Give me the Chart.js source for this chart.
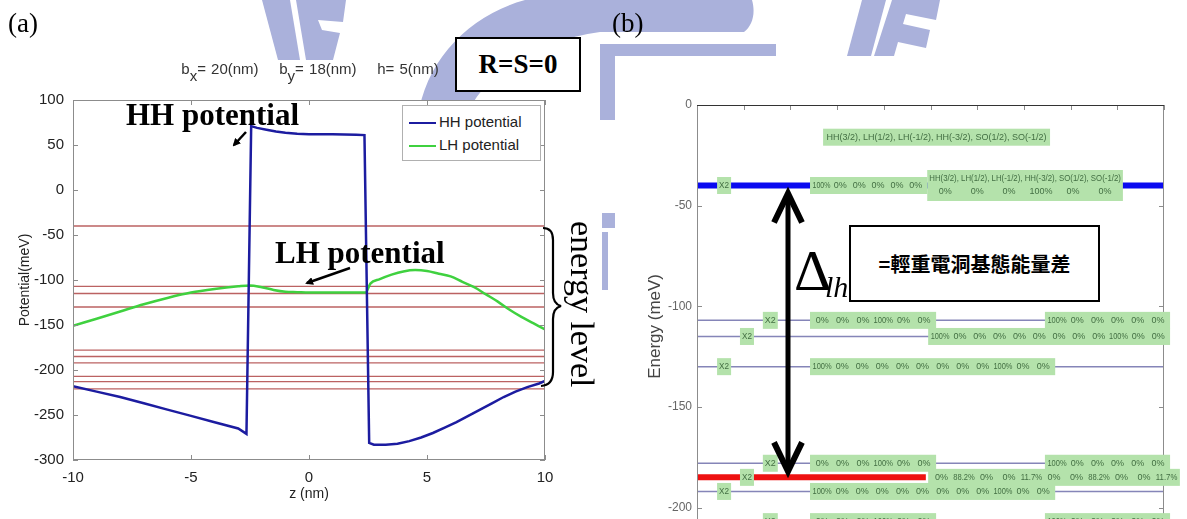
<!DOCTYPE html>
<html lang="zh-Hant">
<head>
<meta charset="UTF-8">
<title>HH / LH potential and energy levels</title>
<script src="https://cdn.jsdelivr.net/npm/chart.js"></script>
<style>
    html, body {
        margin: 0;
        padding: 0;
        width: 1187px;
        height: 519px;
        overflow: hidden;
        background: #fff;
    }
    body {
        position: relative;
        font-family: 'Liberation Sans', Arial, sans-serif;
    }
    .abs { position: absolute; }
    .serif { font-family: 'Liberation Serif', 'Times New Roman', serif; color: #000; }
    #wm { position: absolute; left: 0; top: 0; }
    #plotA-bg { left: 73px; top: 100px; width: 472px; height: 360px; background: #fff; }
    #panelB-bg { left: 615px; top: 56px; width: 572px; height: 463px; background: #fff; }
    #chartA { left: 0; top: 0; }
    #chartB { left: 600px; top: 0; }

    #titleA {
        left: 140px; top: 61px; width: 340px;
        text-align: center; font-size: 15px; color: #333; line-height: 15px;
        white-space: nowrap; word-spacing: 1px;
    }
    #titleA sub { font-size: 15px; vertical-align: -7px; line-height: 0; }

    #legendA {
        left: 402px; top: 105px; width: 137px; height: 54px;
        border: 1px solid #b0b0b0; background: #fff; font-size: 15px; color: #222;
    }
    #legendA .row { position: absolute; left: 6px; height: 18px; line-height: 18px; white-space: nowrap; }
    #legendA .sw { display: inline-block; width: 27px; height: 2.5px; vertical-align: middle; margin-right: 3px; }

    #rs { left: 455px; top: 37px; width: 122px; height: 51px; border: 2px solid #000; background: #fff;
          font-weight: bold; font-size: 27px; line-height: 51px; text-align: center; }
    .big { font-weight: bold; font-size: 31px; line-height: 31px; white-space: nowrap; }
    #energyLevel { left: 565px; top: 221px; writing-mode: vertical-rl; font-size: 34px; line-height: 34px; white-space: nowrap; }
    .panelTag { font-size: 27px; line-height: 27px; }

    #delta { left: 794px; top: 242px; font-size: 58px; line-height: 58px; }
    #lh { left: 825px; top: 272px; font-size: 30px; line-height: 30px; font-style: italic; z-index: 3; }
    #cjkBox { left: 849px; top: 225px; width: 247px; height: 73px; border: 2px solid #000; background: #fff;
              font-family: 'Noto Sans CJK TC', 'Noto Sans CJK SC', sans-serif; font-weight: bold;
              font-size: 20px; line-height: 73px; text-align: center; color: #000; }
    #overlay { position: absolute; left: 0; top: 0; pointer-events: none; }
</style>
</head>
<body>

<!-- faint emblem behind the figure -->
<svg id="wm" width="1187" height="519" viewBox="0 0 1187 519">
    <g fill="#aab1db">
        <polygon points="262,0 290,0 300,60 278,60"/>
        <polygon points="296,0 346,0 343,22 318,20 322,30 340,33 333,60 306,60"/>
        <path d="M418,118 C425,60 470,15 525,0 L752,0 C756,14 752,26 744,32 L600,32 C540,40 480,75 466,118 Z"/>
        <rect x="600" y="44" width="176" height="12"/>
        <rect x="600" y="44" width="15" height="76"/>
        <rect x="602" y="213" width="13" height="15"/>
        <rect x="602" y="232" width="6" height="58"/>
        <polygon points="862,0 886,0 871,56 847,56"/>
        <polygon points="892,0 940,0 936,20 906,14 903,24 930,30 926,48 898,42 894,56 874,56"/>
    </g>
</svg>

<div id="plotA-bg" class="abs"></div>
<div id="panelB-bg" class="abs"></div>

<canvas id="chartA" class="abs" width="600" height="519"></canvas>
<canvas id="chartB" class="abs" width="587" height="560"></canvas>

<!-- panel (a) texts -->
<div class="abs serif panelTag" style="left:8px; top:10px;">(a)</div>
<div id="titleA" class="abs">b<sub>x</sub>= 20(nm)&nbsp;&nbsp;&nbsp; b<sub>y</sub>= 18(nm)&nbsp;&nbsp;&nbsp; h= 5(nm)</div>
<div id="rs" class="abs serif">R=S=0</div>
<div id="legendA" class="abs">
    <div class="row" style="top:7px;"><span class="sw" style="background:#1c1ca0"></span>HH potential</div>
    <div class="row" style="top:30px;"><span class="sw" style="background:#3fd13f"></span>LH potential</div>
</div>
<div class="abs serif big" style="left:126px; top:99px;">HH potential</div>
<div class="abs serif big" style="left:275px; top:237px;">LH potential</div>
<div id="energyLevel" class="abs serif">energy level</div>

<!-- panel (b) texts -->
<div class="abs serif panelTag" style="left:612px; top:10px;">(b)</div>
<div id="delta" class="abs serif">&Delta;</div>
<div id="cjkBox" class="abs">=輕重電洞基態能量差</div>
<div id="lh" class="abs serif">lh</div>

<svg id="overlay" width="1187" height="519">
    <defs>
        <marker id="head" markerWidth="8" markerHeight="8" refX="6" refY="4" orient="auto" markerUnits="userSpaceOnUse">
            <path d="M0,0 L8,4 L0,8 Z" fill="#000"/>
        </marker>
    </defs>
    <line x1="246" y1="132" x2="234" y2="145" stroke="#000" stroke-width="2.5" marker-end="url(#head)"/>
    <line x1="350" y1="268" x2="307" y2="283" stroke="#000" stroke-width="2.5" marker-end="url(#head)"/>
    <path d="M543,228 Q553,228 553,240 L553,293 Q553,304 561,306 Q553,308 553,319 L553,372 Q553,385 541,386"
          fill="none" stroke="#000" stroke-width="2.2"/>
</svg>

<script>
// ---- panel (a): potentials along z ----
var hhZ = [-10, -9, -8, -7, -6, -5, -4, -3, -2.65, -2.45, -2.2, -1.8, -1.4, -1.0, -0.5, 0, 1, 2, 2.35,
           2.55, 2.75, 3.25, 3.75, 4.25, 4.75, 5.25, 5.75, 6.25, 6.75, 7.25, 7.75, 8.25, 8.75, 9.25, 9.75, 10];
var hhPotential = [-218, -224, -230, -237, -244, -251, -258, -265, -271, 71, 69, 67, 65, 63.5, 62.5, 62, 62, 61.5, 61,
                   -281, -283, -283, -282, -279, -275, -270, -264, -258, -251, -244, -237, -230, -224, -219, -215, -212];

var lhZ = [-10, -9, -8, -7, -6, -5, -4, -3, -2.5, -2.0, -1.5, -1.0, -0.5, 0, 1, 2, 2.4,
           2.6, 3, 3.5, 4, 4.5, 5, 5.5, 6, 6.5, 7, 7.5, 8, 8.5, 9, 9.5, 10];
var lhPotential = [-151, -143, -135, -127, -120, -114, -110, -107, -106, -108, -111, -113, -113.5, -114, -114, -114, -114,
                   -104, -99, -94, -90.5, -89, -90, -93, -96, -102, -108, -116, -124, -133, -141, -148, -155];

// subband energies (meV), shared by both panels
var energyLevels = [-40, -107, -115, -130, -178, -185, -192, -207, -213, -221];

// ---- panel (b): composition of each level ----
var spinHeader = 'HH(3/2), LH(1/2), LH(-1/2), HH(-3/2), SO(1/2), SO(-1/2)';
var degeneracy = 'X2';
var levelCompositions = [
    ['100% 0% 0% 0% 0% 0%', '0% 0% 0% 100% 0% 0%'],
    ['0% 0% 0% 100% 0% 0%', '100% 0% 0% 0% 0% 0%'],
    ['100% 0% 0% 0% 0% 0% 0% 0% 0% 100% 0% 0%'],
    ['100% 0% 0% 0% 0% 0% 0% 0% 0% 100% 0% 0%'],
    ['0% 0% 0% 100% 0% 0%', '100% 0% 0% 0% 0% 0%'],
    ['0% 88.2% 0% 0% 11.7% 0% 0% 88.2% 0% 0% 11.7%'],
    ['100% 0% 0% 0% 0% 0% 0% 0% 0% 100% 0% 0%'],
    ['0% 0% 0% 100% 0% 0%', '100% 0% 0% 0% 0% 0%']
];

// where the label boxes sit in (b), in x-axis units
var x2Slots = [[0.43, 0.73], [0.92, 1.22], [1.41, 1.73]];
var noteLayout = [
    { slot: 0, boxes: [[2.42, 4.93], [4.93, 9.12]] },
    { slot: 2, boxes: [[2.42, 5.12], [7.45, 10.13]] },
    { slot: 1, boxes: [[4.95, 10.13]] },
    { slot: 0, boxes: [[2.42, 7.67]] },
    { slot: 2, boxes: [[2.42, 5.12], [7.45, 10.13]] },
    { slot: 1, boxes: [[4.95, 10.34]] },
    { slot: 0, boxes: [[2.42, 7.67]] },
    { slot: 2, boxes: [[2.42, 5.12], [7.45, 10.13]] }
];
var headerSpan = [2.7, 7.56], headerEnergy = -16;
var hhGround = 0, lhGround = 5, lhLineEnd = 4.9, arrowX = 1.95;

Chart.defaults.font.family = "'Liberation Sans', Arial, sans-serif";

// box around the plot with MATLAB-style inward ticks
var frameTicks = {
    id: 'frameTicks',
    afterDatasetsDraw: function (chart, args, opts) {
        var ctx = chart.ctx, a = chart.chartArea, x = chart.scales.x, y = chart.scales.y;
        var len = opts.len || 5;
        ctx.save();
        ctx.strokeStyle = opts.color;
        ctx.lineWidth = 1;
        ctx.strokeRect(Math.round(a.left) + 0.5, Math.round(a.top) + 0.5,
                       Math.round(a.width) - 1, Math.round(a.height) - 1);
        ctx.beginPath();
        var xs = [];
        for (var v = x.min; v <= x.max + 1e-9; v += opts.xStep) xs.push(v);
        xs.forEach(function (v) {
            var px = Math.round(x.getPixelForValue(v)) + 0.5;
            ctx.moveTo(px, a.bottom); ctx.lineTo(px, a.bottom - len);
            ctx.moveTo(px, a.top); ctx.lineTo(px, a.top + len);
        });
        y.ticks.forEach(function (t) {
            var py = Math.round(y.getPixelForValue(t.value)) + 0.5;
            ctx.moveTo(a.left, py); ctx.lineTo(a.left + len, py);
            ctx.moveTo(a.right, py); ctx.lineTo(a.right - len, py);
        });
        ctx.stroke();
        if (opts.topColor) {
            ctx.strokeStyle = opts.topColor;
            ctx.beginPath();
            ctx.moveTo(a.left, Math.round(a.top) + 0.5);
            ctx.lineTo(a.right, Math.round(a.top) + 0.5);
            ctx.stroke();
        }
        ctx.restore();
    }
};

function zip(xs, ys) {
    return xs.map(function (v, i) { return { x: v, y: ys[i] }; });
}

var datasetsA = [
    { label: 'HH potential', data: zip(hhZ, hhPotential), borderColor: '#1c1ca0', borderWidth: 2.5,
      pointRadius: 0, tension: 0 },
    { label: 'LH potential', data: zip(lhZ, lhPotential), borderColor: '#3fd13f', borderWidth: 2.5,
      pointRadius: 0, cubicInterpolationMode: 'monotone' }
];
energyLevels.forEach(function (e) {
    datasetsA.push({ label: 'level', data: [{ x: -10, y: e }, { x: 10, y: e }],
                     borderColor: '#bb6262', borderWidth: 1.3, pointRadius: 0 });
});

new Chart(document.getElementById('chartA'), {
    type: 'line',
    data: { datasets: datasetsA },
    options: {
        responsive: false,
        animation: false,
        layout: { padding: { top: 100, right: 55, bottom: 12, left: 12 } },
        plugins: {
            legend: { display: false },
            tooltip: { enabled: false },
            frameTicks: { color: '#8c8c8c', len: 5, xStep: 5 }
        },
        scales: {
            x: {
                type: 'linear', min: -10, max: 10,
                ticks: { stepSize: 5, padding: 9, color: '#222', font: { size: 15 } },
                grid: { display: false, drawTicks: false },
                border: { display: false },
                title: { display: true, text: 'z (nm)', color: '#222', font: { size: 14 }, padding: { top: 0, bottom: 4 } },
                afterFit: function (s) { s.height = 47; }
            },
            y: {
                min: -300, max: 100,
                ticks: { stepSize: 50, padding: 9, color: '#222', font: { size: 15 } },
                grid: { display: false, drawTicks: false },
                border: { display: false },
                title: { display: true, text: 'Potential(meV)', color: '#222', font: { size: 14 }, padding: { top: 5, bottom: 0 } },
                afterFit: function (s) { s.width = 61; }
            }
        }
    },
    plugins: [frameTicks]
});

// ---- panel (b) ----
var datasetsB = energyLevels.map(function (e, i) {
    if (i === hhGround) {
        return { data: [{ x: 0, y: e }, { x: 10, y: e }], borderColor: '#0a0af0', borderWidth: 6, pointRadius: 0 };
    }
    if (i === lhGround) {
        return { data: [{ x: 0, y: e }, { x: lhLineEnd, y: e }], borderColor: '#ee1111', borderWidth: 6, pointRadius: 0 };
    }
    return { data: [{ x: 0, y: e }, { x: 10, y: e }], borderColor: '#8585b8', borderWidth: 1.5, pointRadius: 0 };
});

function drawNote(ctx, x0, x1, yc, lines) {
    var h = lines.length > 1 ? 31 : 17;
    ctx.fillStyle = '#b4e2ab';
    ctx.fillRect(x0, yc - h / 2, x1 - x0, h);
    ctx.fillStyle = '#436f43';
    ctx.font = "9px 'Liberation Sans', Arial, sans-serif";
    ctx.textBaseline = 'middle';
    ctx.textAlign = 'center';
    lines.forEach(function (line, li) {
        var ly = yc + (li - (lines.length - 1) / 2) * 13;
        if (line.indexOf('%') >= 0) {
            var tokens = line.split(' ');
            var slot = (x1 - x0 - 4) / tokens.length;
            tokens.forEach(function (t, k) {
                ctx.fillText(t, x0 + 2 + slot * (k + 0.5), ly, slot - 1);
            });
        } else {
            ctx.fillText(line, (x0 + x1) / 2, ly, x1 - x0 - 4);
        }
    });
}

var levelNotes = {
    id: 'levelNotes',
    afterDatasetsDraw: function (chart) {
        var ctx = chart.ctx, x = chart.scales.x, y = chart.scales.y;
        ctx.save();
        drawNote(ctx, x.getPixelForValue(headerSpan[0]), x.getPixelForValue(headerSpan[1]),
                 y.getPixelForValue(headerEnergy), [spinHeader]);
        noteLayout.forEach(function (lay, i) {
            var yc = y.getPixelForValue(energyLevels[i]);
            var s = x2Slots[lay.slot];
            drawNote(ctx, x.getPixelForValue(s[0]), x.getPixelForValue(s[1]), yc, [degeneracy]);
            lay.boxes.forEach(function (b, k) {
                var lines = [levelCompositions[i][k]];
                if (i === hhGround && k === 1) lines = [spinHeader, levelCompositions[i][k]];
                drawNote(ctx, x.getPixelForValue(b[0]), x.getPixelForValue(b[1]), yc, lines);
            });
        });

        // double arrow between HH and LH ground states
        var ax = Math.round(x.getPixelForValue(arrowX));
        var yTop = y.getPixelForValue(energyLevels[hhGround]) + 5;
        var yBot = y.getPixelForValue(energyLevels[lhGround]) - 3;
        ctx.strokeStyle = '#000';
        ctx.lineWidth = 5;
        ctx.lineJoin = 'miter';
        ctx.beginPath();
        ctx.moveTo(ax, yTop + 6); ctx.lineTo(ax, yBot - 6);
        ctx.stroke();
        ctx.lineWidth = 6;
        ctx.beginPath();
        ctx.moveTo(ax - 14, yTop + 32); ctx.lineTo(ax, yTop + 3); ctx.lineTo(ax + 14, yTop + 32);
        ctx.moveTo(ax - 14, yBot - 32); ctx.lineTo(ax, yBot - 3); ctx.lineTo(ax + 14, yBot - 32);
        ctx.stroke();
        ctx.restore();
    }
};

new Chart(document.getElementById('chartB'), {
    type: 'line',
    data: { datasets: datasetsB },
    options: {
        responsive: false,
        animation: false,
        layout: { padding: { top: 105, right: 23, bottom: 9, left: 41 } },
        plugins: {
            legend: { display: false },
            tooltip: { enabled: false },
            frameTicks: { color: '#8c8c8c', topColor: '#333', len: 5, xStep: 1 }
        },
        scales: {
            x: { type: 'linear', min: 0, max: 10, display: false },
            y: {
                min: -220, max: 0,
                ticks: { stepSize: 50, padding: 5, color: '#666', font: { size: 12 } },
                grid: { display: false, drawTicks: false },
                border: { display: false },
                title: { display: true, text: 'Energy (meV)', color: '#444', font: { size: 17 }, padding: { top: 4, bottom: 0 } },
                afterFit: function (s) { s.width = 56; }
            }
        }
    },
    plugins: [frameTicks, levelNotes]
});
</script>
</body>
</html>
